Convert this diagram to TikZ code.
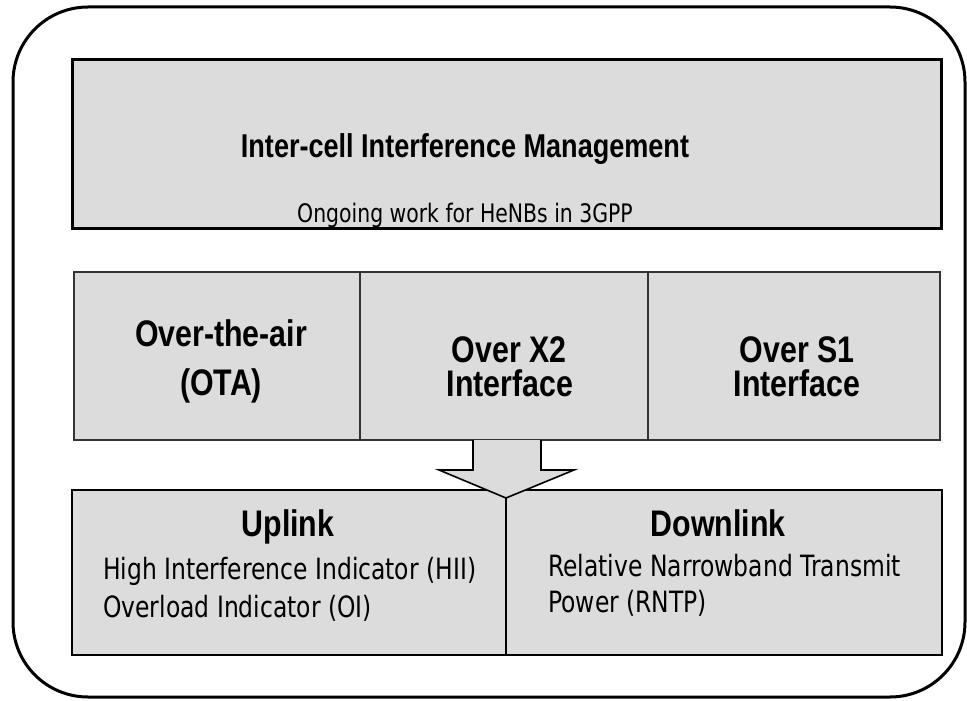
\documentclass[tikz,border=0pt]{standalone}
\usepackage{fontspec}
\newfontfamily\headfont[FakeStretch=0.82]{Liberation Sans}
\newfontfamily\bodyfont[FakeStretch=0.8]{DejaVu Sans}
\definecolor{panel}{HTML}{DCDCDC}
\tikzset{
  panelbox/.style={draw=black, fill=panel, line width=2pt, inner sep=0pt, outer sep=0pt},
  cellbox/.style={draw=black!80, fill=panel, line width=1.6pt, inner sep=0pt, outer sep=0pt},
  titletext/.style={font=\headfont\bfseries\fontsize{33}{36}\selectfont, anchor=base, inner sep=0pt},
  headtext/.style={font=\headfont\bfseries\fontsize{37}{40}\selectfont, anchor=base, inner sep=0pt},
  subtext/.style={font=\bodyfont\fontsize{25.5}{29}\selectfont, anchor=base, inner sep=0pt},
  itemtext/.style={font=\bodyfont\fontsize{29.3}{33}\selectfont, anchor=base west, inner sep=0pt},
}
\begin{document}
\begin{tikzpicture}[x=1pt, y=-1pt]
\useasboundingbox (0,0) rectangle (967,701);
% outer frame
\draw[line width=3pt, rounded corners=75pt] (13,7) rectangle (965,697);
% top panel
\node[panelbox, line width=3pt, minimum width=869pt, minimum height=168pt] (top) at (506.5,144) {};
\node[titletext] (title) at (465,157) {Inter-cell Interference Management};
\node[subtext] (sub) at (465,222) {Ongoing work for HeNBs in 3GPP};
% middle row of three cells
\node[cellbox, minimum width=286pt, minimum height=168pt] (ota) at (217,356) {};
\node[cellbox, minimum width=288pt, minimum height=168pt] (x2) at (504,356) {};
\node[cellbox, minimum width=292pt, minimum height=168pt] (s1) at (794,356) {};
\node[headtext] (ota1) at (221,346) {Over-the-air};
\node[headtext] (ota2) at (221,395) {(OTA)};
\node[headtext] (x21) at (509,362) {Over X2};
\node[headtext] (x22) at (510,396) {Interface};
\node[headtext] (s11) at (797,362) {Over S1};
\node[headtext] (s12) at (797,396) {Interface};
% bottom panel split into uplink / downlink
\node[panelbox, minimum width=434pt, minimum height=165pt] (ul) at (289,572.5) {};
\node[panelbox, minimum width=436pt, minimum height=165pt] (dl) at (724,572.5) {};
\node[headtext] (ulh) at (288,536) {Uplink};
\node[headtext] (dlh) at (718,536) {Downlink};
\node[itemtext] (hii) at (103,579) {High Interference Indicator (HII)};
\node[itemtext] (oi) at (103,617) {Overload Indicator (OI)};
\node[itemtext] (rntp1) at (548,576) {Relative Narrowband Transmit};
\node[itemtext] (rntp2) at (548,612) {Power (RNTP)};
% block arrow from the middle row down into the bottom panel
\coordinate (tip) at (506,498);
\filldraw[fill=panel, draw=black, line width=1.6pt, line join=miter]
  (473,440) -- (473,470) -- (439,470) -- (tip) -- (574,470) -- (541,470) -- (541,440);
\end{tikzpicture}
\end{document}
